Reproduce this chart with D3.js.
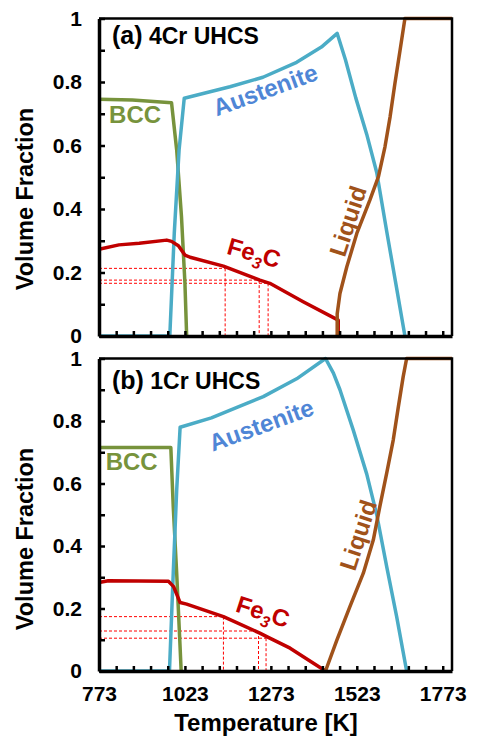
<!DOCTYPE html>
<html>
<head>
<meta charset="utf-8">
<script src="https://cdn.jsdelivr.net/npm/d3@7"></script>
<style>
  body { margin: 0; background: #fff; }
  text { font-family: "Liberation Sans", Arial, sans-serif; font-weight: bold; }
</style>
</head>
<body>
<svg width="478" height="740"></svg>
<script>
// ---- data: [temperature K, volume fraction] ----
// (a) 4Cr UHCS
var bccA  = [[773,0.746],[870,0.743],[984,0.735],[999,0.586],[1013,0.375],[1023,0.167],[1028,0]];
var austA = [[773,0],[979,0],[992,0.324],[1006,0.586],[1021,0.749],[1154,0.785],[1250,0.815],[1348,0.862],
             [1420,0.91],[1466,0.953],[1490,0.87],[1520,0.75],[1552,0.635],[1581,0.515],[1610,0.33],
             [1639,0.15],[1663,0]];
var fe3cA = [[773,0.273],[831,0.287],[890,0.292],[970,0.302],[984,0.298],[1004,0.284],[1023,0.255],
             [1038,0.248],[1135,0.220],[1241,0.176],[1270,0.166],[1367,0.108],[1469,0.05],[1469,0]];
var liqA  = [[1466,0],[1466,0.07],[1474,0.134],[1494,0.218],[1523,0.323],[1561,0.428],[1586,0.502],
             [1605,0.596],[1620,0.691],[1634,0.796],[1649,0.901],[1663,1],[1800,1]];
var markTA = [1140, 1239, 1265];
var markVA = [0.213, 0.176, 0.166];

// (b) 1Cr UHCS
var bccB  = [[773,0.715],[982,0.715],[989,0.526],[999,0.313],[1008,0.099],[1012,0]];
var austB = [[773,0],[978,0],[989,0.313],[999,0.579],[1009,0.78],[1100,0.81],[1178,0.845],[1251,0.878],
             [1348,0.935],[1432,1],[1455,0.953],[1474,0.9],[1513,0.77],[1552,0.63],[1581,0.5],
             [1610,0.334],[1639,0.174],[1668,0]];
var fe3cB = [[773,0.283],[800,0.289],[975,0.287],[990,0.27],[1009,0.219],[1028,0.214],[1135,0.174],
             [1241,0.121],[1261,0.11],[1329,0.073],[1432,0]];
var liqB  = [[1432,0],[1465,0.099],[1503,0.206],[1542,0.313],[1571,0.419],[1590,0.526],[1610,0.633],
             [1629,0.739],[1644,0.846],[1658,0.942],[1668,1],[1800,1]];
var markTB = [1135, 1237, 1259];
var markVB = [0.174, 0.128, 0.105];

var xTickLabels = [773, 1023, 1273, 1523, 1773];
var yTickLabels = [0, 0.2, 0.4, 0.6, 0.8, 1];

// ---- layout ----
var svg = d3.select("svg");
var x = d3.scaleLinear().domain([773, 1800]).range([99, 452]);

var colors = {bcc: "#77933c", aust: "#4bacc6", austText: "#4f86d6", fe3c: "#c00000", liq: "#a0521a", mark: "#ff0000"};

var panels = [
  {title: "(a)", sub: " 4Cr UHCS", top: 18.5, bottom: 336, bcc: bccA, aust: austA, fe3c: fe3cA, liq: liqA,
   markT: markTA, markV: markVA, titleY: 44, yTitleY: 199,
   lab: {bcc: [878, 0.696, 0], aust: [1257, 0.775, -20], fe3c: [1224, 0.262, 16], liq: [1497, 0.362, -72]}},
  {title: "(b)", sub: " 1Cr UHCS", top: 358.5, bottom: 671, bcc: bccB, aust: austB, fe3c: fe3cB, liq: liqB,
   markT: markTB, markV: markVB, titleY: 389, yTitleY: 539,
   lab: {bcc: [868, 0.67, 0], aust: [1245, 0.787, -20], fe3c: [1250, 0.19, 18], liq: [1527, 0.435, -72]}}
];

panels.forEach(function(p, pi) {
  var y = d3.scaleLinear().domain([0, 1]).range([p.bottom, p.top]);
  var g = svg.append("g");

  var line = d3.line()
      .x(function(d) { return x(d[0]); })
      .y(function(d) { return y(d[1]); });

  // dashed guide lines
  var marks = g.append("g")
      .attr("stroke", colors.mark)
      .attr("stroke-width", 1)
      .attr("stroke-dasharray", "3,2")
      .attr("fill", "none");
  p.markT.forEach(function(t, i) {
    marks.append("path").attr("d", line([[773, p.markV[i]], [t, p.markV[i]]]));
    marks.append("path").attr("d", line([[t, p.markV[i]], [t, 0]]));
  });

  // phase curves
  [["bcc", colors.bcc], ["aust", colors.aust], ["fe3c", colors.fe3c], ["liq", colors.liq]].forEach(function(s) {
    g.append("path")
      .datum(p[s[0]])
      .attr("fill", "none")
      .attr("stroke", s[1])
      .attr("stroke-width", 3.5)
      .attr("stroke-linejoin", "round")
      .attr("d", line);
  });

  // frame (top + right)
  g.append("path")
    .attr("d", "M" + x.range()[0] + "," + p.top + "H" + x.range()[1] + "V" + p.bottom)
    .attr("fill", "none").attr("stroke", "#000").attr("stroke-width", 2.5);

  // x axis minor ticks (inward)
  var xa = g.append("g")
      .attr("transform", "translate(0," + p.bottom + ")")
      .call(d3.axisBottom(x).tickValues(d3.range(773, 1800, 50)).tickSize(-5).tickSizeOuter(0).tickFormat(""));
  xa.select(".domain").attr("stroke-width", 3.5);
  xa.selectAll(".tick line").attr("stroke-width", 2.5);

  if (pi === 1) {
    var xl = g.append("g")
        .attr("transform", "translate(0," + p.bottom + ")")
        .call(d3.axisBottom(x).tickValues(xTickLabels).tickSize(0).tickPadding(15).tickFormat(d3.format("d")));
    xl.select(".domain").remove();
    xl.selectAll("text").attr("font-size", 21).attr("fill", "#000");
  }

  // y axis
  var ya = g.append("g")
      .attr("transform", "translate(" + x.range()[0] + ",0)")
      .call(d3.axisLeft(y).tickValues(d3.range(0, 1.01, 0.1)).tickSize(-6).tickSizeOuter(0).tickFormat(""));
  ya.select(".domain").attr("stroke-width", 3.5);
  ya.selectAll(".tick line").attr("stroke-width", 2.5);

  var yl = g.append("g")
      .attr("transform", "translate(" + x.range()[0] + ",0)")
      .call(d3.axisLeft(y).tickValues(yTickLabels).tickSize(0).tickPadding(17).tickFormat(d3.format("")));
  yl.select(".domain").remove();
  yl.selectAll("text").attr("font-size", 21).attr("fill", "#000");

  // panel title
  var t = g.append("text").attr("x", 112).attr("y", p.titleY).attr("fill", "#000");
  t.append("tspan").attr("font-size", 25).text(p.title);
  t.append("tspan").attr("font-size", 23).text(p.sub);

  // y title
  g.append("text")
    .attr("transform", "translate(33," + p.yTitleY + ") rotate(-90)")
    .attr("text-anchor", "middle")
    .attr("font-size", 23.5)
    .text("Volume Fraction");

  // series labels
  function label(key, color) {
    var L = p.lab[key];
    return g.append("text")
      .attr("transform", "translate(" + x(L[0]) + "," + y(L[1]) + ") rotate(" + L[2] + ")")
      .attr("text-anchor", "middle")
      .attr("dy", "0.35em")
      .attr("font-size", 24)
      .attr("fill", color);
  }
  label("bcc", colors.bcc).text("BCC");
  label("aust", colors.austText).text("Austenite");
  var fe = label("fe3c", colors.fe3c);
  fe.append("tspan").text("Fe");
  fe.append("tspan").attr("font-size", 16).attr("font-style", "italic").attr("dy", 6).text("3");
  fe.append("tspan").attr("dy", -6).text("C");
  label("liq", colors.liq).text("Liquid");
});

// x title
svg.append("text")
  .attr("x", 266)
  .attr("y", 731)
  .attr("text-anchor", "middle")
  .attr("font-size", 24)
  .text("Temperature [K]");
</script>
</body>
</html>
